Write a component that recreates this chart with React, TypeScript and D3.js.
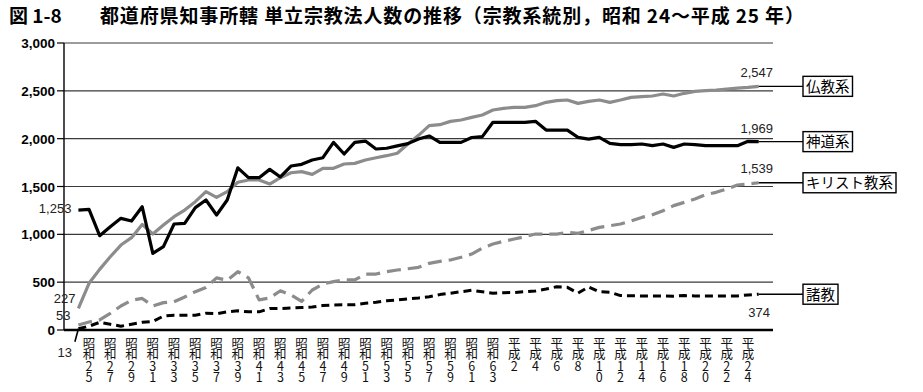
import React, { useEffect, useRef } from "react";
import * as d3 from "d3";

// 昭和24 (1949) ～ 平成25 (2013)
const years = d3.range(1949, 2014);

const buddhist = [
  227, 488, 634, 766, 888, 965, 1104, 1003, 1097, 1185, 1254, 1341, 1446, 1387, 1446, 1545,
  1568, 1568, 1526, 1592, 1644, 1655, 1627, 1690, 1690, 1735, 1742, 1777, 1801, 1822, 1847, 1945,
  2035, 2136, 2146, 2181, 2195, 2223, 2247, 2300, 2317, 2327, 2327, 2345, 2380, 2397, 2404, 2369,
  2390, 2404, 2380, 2404, 2432, 2439, 2446, 2467, 2446, 2474, 2495, 2502, 2508, 2519, 2529, 2536,
  2547,
];
const shinto = [
  1253, 1260, 986, 1080, 1167, 1139, 1289, 801, 871, 1108, 1115, 1279, 1359, 1202, 1359, 1695,
  1592, 1592, 1679, 1600, 1714, 1732, 1777, 1801, 1961, 1840, 1961, 1975, 1892, 1900, 1925, 1948,
  1996, 2028, 1961, 1961, 1961, 2012, 2021, 2171, 2171, 2171, 2171, 2181, 2090, 2090, 2090, 2014,
  1996, 2014, 1951, 1937, 1937, 1944, 1927, 1944, 1909, 1944, 1937, 1927, 1927, 1927, 1927, 1972,
  1969,
];
const christian = [
  53, 84, 105, 174, 251, 310, 330, 251, 286, 296, 345, 401, 445, 545, 520, 610,
  545, 315, 335, 410, 366, 300, 418, 481, 505, 523, 523, 585, 585, 610, 627, 640,
  655, 697, 718, 732, 760, 794, 857, 899, 927, 951, 976, 1003, 1003, 1003, 1021, 1010,
  1040, 1073, 1090, 1108, 1140, 1177, 1205, 1247, 1300, 1334, 1369, 1414, 1439, 1474, 1516, 1526,
  1539,
];
const other = [
  13, 40, 80, 60, 40, 60, 80, 90, 145, 155, 155, 155, 175, 170, 190, 200,
  190, 190, 225, 225, 230, 235, 240, 255, 262, 265, 265, 280, 290, 305, 315, 325,
  335, 348, 370, 385, 400, 415, 400, 385, 390, 392, 400, 408, 428, 452, 446, 385,
  450, 400, 395, 360, 358, 356, 356, 356, 354, 360, 356, 356, 356, 356, 356, 366,
  374,
];

const yTicks = [0, 500, 1000, 1500, 2000, 2500, 3000];
const xTickLabels = [
  "昭和25", "昭和27", "昭和29", "昭和31", "昭和33", "昭和35", "昭和37", "昭和39",
  "昭和41", "昭和43", "昭和45", "昭和47", "昭和49", "昭和51", "昭和53", "昭和55",
  "昭和57", "昭和59", "昭和61", "昭和63", "平成2", "平成4", "平成6", "平成8",
  "平成10", "平成12", "平成14", "平成16", "平成18", "平成20", "平成22", "平成24",
];

const labelYear = (s: string) =>
  s.startsWith("昭和") ? 1925 + +s.slice(2) : 1988 + +s.slice(2);

const GRAY = "#8c8c8c";
const CJK = "'Noto Sans CJK JP', sans-serif";
const NUM = "'Liberation Sans', Arial, sans-serif";

const series = [
  { name: "仏教系", values: buddhist, color: GRAY, dash: null, width: 3.2,
    start: { dx: -3, dy: -5 }, end: { dy: -9, x: 773 } },
  { name: "神道系", values: shinto, color: "#000", dash: null, width: 3.2,
    start: { dx: -7, dy: 3 }, end: { dy: -9, x: 773 } },
  { name: "キリスト教系", values: christian, color: GRAY, dash: "14,7", width: 3.2,
    start: { dx: -8, dy: -5 }, end: { dy: -10, x: 773 } },
  { name: "諸教", values: other, color: "#000", dash: "8,5", width: 3,
    start: null, end: { dy: 23, x: 770 } },
];

function Chart() {
  const ref = useRef<SVGSVGElement>(null);

  useEffect(() => {
    document.body.style.margin = "0";
    const svg = d3.select(ref.current);
    svg.selectAll("*").remove();

    const x = d3.scaleLinear().domain([1949, 2013]).range([78.4, 758.7]);
    const y = d3.scaleLinear().domain([0, 3000]).range([330, 43]);
    const left = 64, right = 773;

    svg.append("rect").attr("width", 923).attr("height", 392).attr("fill", "#fff");

    // title
    svg.append("text").attr("x", 9).attr("y", 23)
      .attr("font-family", CJK).attr("font-weight", "bold").attr("font-size", 19)
      .text("図 1-8");
    svg.append("text").attr("x", 100).attr("y", 23)
      .attr("font-family", CJK).attr("font-weight", "bold").attr("font-size", 19)
      .attr("textLength", 704).attr("lengthAdjust", "spacing")
      .text("都道府県知事所轄 単立宗教法人数の推移（宗教系統別，昭和 24～平成 25 年）");

    // grid + y axis
    svg.append("g").selectAll("line").data(yTicks.filter((d) => d > 0)).enter()
      .append("line")
      .attr("x1", left).attr("x2", right)
      .attr("y1", (d) => y(d)).attr("y2", (d) => y(d))
      .attr("stroke", "#3a3a3a").attr("stroke-width", 1.1);

    svg.append("line").attr("x1", left).attr("x2", left)
      .attr("y1", y(3000)).attr("y2", y(0)).attr("stroke", "#000").attr("stroke-width", 1.4);

    const yt = svg.append("g").selectAll("g").data(yTicks).enter().append("g");
    yt.append("line").attr("x1", left - 7).attr("x2", left)
      .attr("y1", (d) => y(d)).attr("y2", (d) => y(d)).attr("stroke", "#000").attr("stroke-width", 1.2);
    yt.append("text").attr("x", 55).attr("y", (d) => y(d) + 5)
      .attr("text-anchor", "end").attr("font-family", NUM).attr("font-weight", "bold")
      .attr("font-size", 13.5).text((d) => d3.format(",")(d));

    // x tick labels, written vertically (one character per row)
    svg.append("g").selectAll("text").data(xTickLabels).enter()
      .append("text")
      .attr("x", (d) => x(labelYear(d)))
      .attr("y", 337)
      .style("writing-mode", "vertical-rl")
      .style("text-orientation", "upright")
      .attr("font-family", CJK).attr("font-size", 12.5).attr("fill", "#111")
      .attr("letter-spacing", -1.2)
      .text((d) => d);

    // lines
    const line = d3.line<number>().x((_, i) => x(years[i])).y((d) => y(d));
    series.forEach((s) => {
      svg.append("path").datum(s.values)
        .attr("d", line).attr("fill", "none")
        .attr("stroke", s.color).attr("stroke-width", s.width)
        .attr("stroke-dasharray", s.dash).attr("stroke-linejoin", "round");
    });

    // x axis (0 line) drawn on top
    svg.append("line").attr("x1", left).attr("x2", right)
      .attr("y1", y(0)).attr("y2", y(0)).attr("stroke", "#000").attr("stroke-width", 2.4);

    // start value labels
    series.forEach((s) => {
      if (!s.start) return;
      svg.append("text")
        .attr("x", x(years[0]) + s.start.dx).attr("y", y(s.values[0]) + s.start.dy)
        .attr("text-anchor", "end").attr("font-family", NUM).attr("font-size", 13)
        .attr("fill", "#222").text(d3.format(",")(s.values[0]));
    });
    // 諸教 start label with leader
    svg.append("line").attr("x1", x(years[0])).attr("y1", y(other[0]))
      .attr("x2", x(years[0]) - 3.5).attr("y2", y(other[0]) + 13)
      .attr("stroke", "#000").attr("stroke-width", 1.6);
    svg.append("text").attr("x", 72).attr("y", 357)
      .attr("text-anchor", "end").attr("font-family", NUM).attr("font-size", 13)
      .attr("fill", "#222").text(d3.format(",")(other[0]));

    // end labels, leaders and legend boxes
    const last = years.length - 1;
    series.forEach((s) => {
      const ly = y(s.values[last]);
      svg.append("text").attr("x", s.end.x).attr("y", ly + s.end.dy)
        .attr("text-anchor", "end").attr("font-family", NUM).attr("font-size", 13)
        .attr("fill", "#222").text(d3.format(",")(s.values[last]));
      svg.append("line").attr("x1", x(years[last])).attr("x2", 803)
        .attr("y1", ly).attr("y2", ly).attr("stroke", "#000").attr("stroke-width", 1.4);
      const g = svg.append("g");
      const box = g.append("rect").attr("fill", "#fff").attr("stroke", "#000").attr("stroke-width", 1.4);
      const txt = g.append("text").attr("x", 806).attr("y", ly + 5.5)
        .attr("font-family", CJK).attr("font-size", 14.5).text(s.name);
      const w = (txt.node() as SVGTextElement).getComputedTextLength();
      box.attr("x", 803).attr("y", ly - 10).attr("width", w + 6).attr("height", 20);
    });
  }, []);

  return <svg ref={ref} width={923} height={392} style={{ display: "block" }} />;
}

export default function App() {
  return <Chart />;
}
